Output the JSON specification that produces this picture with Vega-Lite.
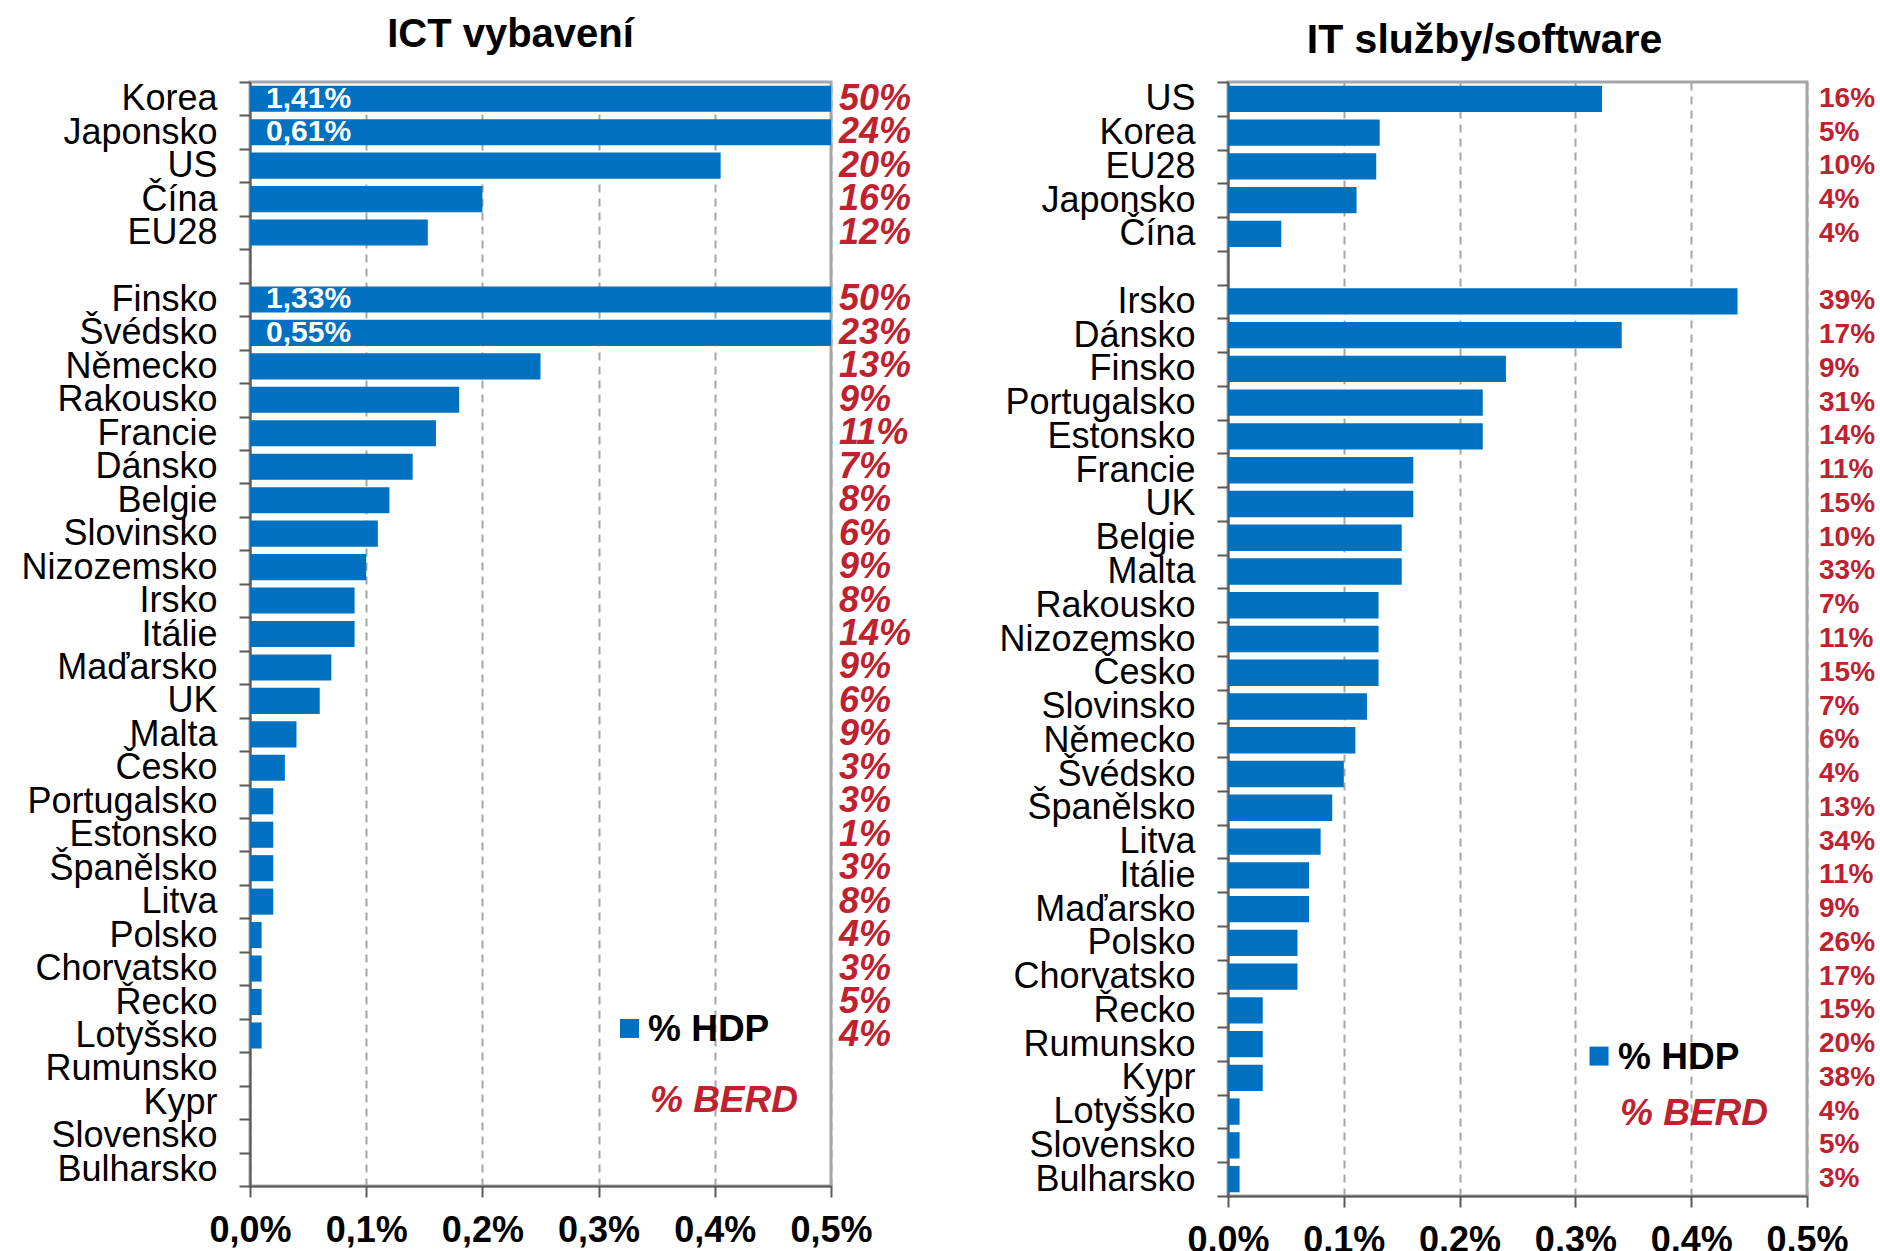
{
  "$schema": "https://vega.github.io/schema/vega-lite/v6.json",
  "background": "white",
  "autosize": {"type": "pad"},
  "padding": {"left": 19, "top": 13, "right": 0, "bottom": 0},
  "bounds": "flush",
  "spacing": 397,
  "config": {
    "font": "Liberation Sans",
    "locale": {"number": {"decimal": ",", "thousands": " ", "grouping": [3], "currency": ["", " Kč"]}},
    "view": {"stroke": "#a6a6a6", "strokeWidth": 3},
    "axisX": {
      "title": null,
      "grid": true,
      "gridColor": "#a6a6a6",
      "gridDash": [8, 6],
      "gridWidth": 2,
      "labelFontSize": 36,
      "labelFontWeight": "bold",
      "labelColor": "black",
      "labelPadding": 16,
      "labelFlush": false,
      "labelOverlap": false,
      "tickSize": 11,
      "tickWidth": 2,
      "tickColor": "#595959",
      "domainColor": "#595959",
      "domainWidth": 2
    },
    "axisY": {
      "title": null,
      "grid": false,
      "tickBand": "extent",
      "labelFontSize": 36,
      "labelColor": "black",
      "labelPadding": 22,
      "labelLimit": 500,
      "labelOverlap": false,
      "tickSize": 11,
      "tickWidth": 2,
      "tickColor": "#595959",
      "domainColor": "#595959",
      "domainWidth": 2
    }
  },
  "datasets": {
    "ict": [
      {"country": "Korea", "hdp": 0.0141, "berd": 0.50},
      {"country": "Japonsko", "hdp": 0.0061, "berd": 0.24},
      {"country": "US", "hdp": 0.00405, "berd": 0.20},
      {"country": "Čína", "hdp": 0.0020, "berd": 0.16},
      {"country": "EU28", "hdp": 0.00153, "berd": 0.12},
      {"country": "Finsko", "hdp": 0.0133, "berd": 0.50},
      {"country": "Švédsko", "hdp": 0.0055, "berd": 0.23},
      {"country": "Německo", "hdp": 0.0025, "berd": 0.13},
      {"country": "Rakousko", "hdp": 0.0018, "berd": 0.09},
      {"country": "Francie", "hdp": 0.0016, "berd": 0.11},
      {"country": "Dánsko", "hdp": 0.0014, "berd": 0.07},
      {"country": "Belgie", "hdp": 0.0012, "berd": 0.08},
      {"country": "Slovinsko", "hdp": 0.0011, "berd": 0.06},
      {"country": "Nizozemsko", "hdp": 0.0010, "berd": 0.09},
      {"country": "Irsko", "hdp": 0.0009, "berd": 0.08},
      {"country": "Itálie", "hdp": 0.0009, "berd": 0.14},
      {"country": "Maďarsko", "hdp": 0.0007, "berd": 0.09},
      {"country": "UK", "hdp": 0.0006, "berd": 0.06},
      {"country": "Malta", "hdp": 0.0004, "berd": 0.09},
      {"country": "Česko", "hdp": 0.0003, "berd": 0.03},
      {"country": "Portugalsko", "hdp": 0.0002, "berd": 0.03},
      {"country": "Estonsko", "hdp": 0.0002, "berd": 0.01},
      {"country": "Španělsko", "hdp": 0.0002, "berd": 0.03},
      {"country": "Litva", "hdp": 0.0002, "berd": 0.08},
      {"country": "Polsko", "hdp": 0.0001, "berd": 0.04},
      {"country": "Chorvatsko", "hdp": 0.0001, "berd": 0.03},
      {"country": "Řecko", "hdp": 0.0001, "berd": 0.05},
      {"country": "Lotyšsko", "hdp": 0.0001, "berd": 0.04},
      {"country": "Rumunsko", "hdp": null, "berd": null},
      {"country": "Kypr", "hdp": null, "berd": null},
      {"country": "Slovensko", "hdp": null, "berd": null},
      {"country": "Bulharsko", "hdp": null, "berd": null}
    ],
    "it": [
      {"country": "US", "hdp": 0.00323, "berd": 0.16},
      {"country": "Korea", "hdp": 0.00131, "berd": 0.05},
      {"country": "EU28", "hdp": 0.00128, "berd": 0.10},
      {"country": "Japonsko", "hdp": 0.00111, "berd": 0.04},
      {"country": "Čína", "hdp": 0.00046, "berd": 0.04},
      {"country": "Irsko", "hdp": 0.0044, "berd": 0.39},
      {"country": "Dánsko", "hdp": 0.0034, "berd": 0.17},
      {"country": "Finsko", "hdp": 0.0024, "berd": 0.09},
      {"country": "Portugalsko", "hdp": 0.0022, "berd": 0.31},
      {"country": "Estonsko", "hdp": 0.0022, "berd": 0.14},
      {"country": "Francie", "hdp": 0.0016, "berd": 0.11},
      {"country": "UK", "hdp": 0.0016, "berd": 0.15},
      {"country": "Belgie", "hdp": 0.0015, "berd": 0.10},
      {"country": "Malta", "hdp": 0.0015, "berd": 0.33},
      {"country": "Rakousko", "hdp": 0.0013, "berd": 0.07},
      {"country": "Nizozemsko", "hdp": 0.0013, "berd": 0.11},
      {"country": "Česko", "hdp": 0.0013, "berd": 0.15},
      {"country": "Slovinsko", "hdp": 0.0012, "berd": 0.07},
      {"country": "Německo", "hdp": 0.0011, "berd": 0.06},
      {"country": "Švédsko", "hdp": 0.0010, "berd": 0.04},
      {"country": "Španělsko", "hdp": 0.0009, "berd": 0.13},
      {"country": "Litva", "hdp": 0.0008, "berd": 0.34},
      {"country": "Itálie", "hdp": 0.0007, "berd": 0.11},
      {"country": "Maďarsko", "hdp": 0.0007, "berd": 0.09},
      {"country": "Polsko", "hdp": 0.0006, "berd": 0.26},
      {"country": "Chorvatsko", "hdp": 0.0006, "berd": 0.17},
      {"country": "Řecko", "hdp": 0.0003, "berd": 0.15},
      {"country": "Rumunsko", "hdp": 0.0003, "berd": 0.20},
      {"country": "Kypr", "hdp": 0.0003, "berd": 0.38},
      {"country": "Lotyšsko", "hdp": 0.0001, "berd": 0.04},
      {"country": "Slovensko", "hdp": 0.0001, "berd": 0.05},
      {"country": "Bulharsko", "hdp": 0.0001, "berd": 0.03}
    ]
  },
  "hconcat": [
    {
      "width": 581,
      "height": 1104,
      "title": {"text": "ICT vybavení", "fontSize": 40, "fontWeight": "bold", "color": "black", "anchor": "middle", "frame": "group", "baseline": "alphabetic", "offset": -23, "dx": -30},
      "data": {"name": "ict"},
      "encoding": {
        "y": {
          "field": "country", "type": "nominal", "sort": null,
          "scale": {"domain": ["Korea","Japonsko","US","Čína","EU28"," ","Finsko","Švédsko","Německo","Rakousko","Francie","Dánsko","Belgie","Slovinsko","Nizozemsko","Irsko","Itálie","Maďarsko","UK","Malta","Česko","Portugalsko","Estonsko","Španělsko","Litva","Polsko","Chorvatsko","Řecko","Lotyšsko","Rumunsko","Kypr","Slovensko","Bulharsko"], "paddingInner": 0, "paddingOuter": 0}
        }
      },
      "layer": [
        {
          "mark": {"type": "bar", "height": {"band": 0.78}, "color": "#0070c0"},
          "encoding": {
            "x": {"field": "hdp", "type": "quantitative", "scale": {"domain": [0, 0.005], "clamp": true, "nice": false, "zero": true},
              "axis": {"values": [0, 0.001, 0.002, 0.003, 0.004, 0.005], "format": ".1%"}}
          }
        },
        {
          "transform": [{"filter": "datum.hdp > 0.005"}],
          "mark": {"type": "text", "align": "left", "baseline": "middle", "dx": 16, "color": "white", "fontWeight": "bold", "fontSize": 30},
          "encoding": {
            "x": {"datum": 0, "type": "quantitative"},
            "text": {"field": "hdp", "type": "quantitative", "format": ".2%"}
          }
        },
        {
          "transform": [{"filter": "isValid(datum.berd)"}],
          "mark": {"type": "text", "align": "left", "baseline": "middle", "dx": 8, "color": "#c0212f", "fontWeight": "bold", "fontStyle": "italic", "fontSize": 36},
          "encoding": {
            "x": {"datum": 0.005, "type": "quantitative"},
            "text": {"field": "berd", "type": "quantitative", "format": ".0%"}
          }
        },
        {
          "data": {"values": [{"label": "% HDP"}]},
          "mark": {"type": "point", "shape": "square", "filled": true, "color": "#0070c0", "opacity": 1, "size": 361, "yOffset": -7},
          "encoding": {
            "x": {"datum": 0.003266, "type": "quantitative"},
            "y": {"datum": "Lotyšsko", "type": "nominal"}
          }
        },
        {
          "data": {"values": [{"label": "% HDP"}]},
          "mark": {"type": "text", "align": "left", "baseline": "middle", "dy": -5, "color": "black", "fontWeight": "bold", "fontSize": 37},
          "encoding": {
            "x": {"datum": 0.003425, "type": "quantitative"},
            "y": {"datum": "Lotyšsko", "type": "nominal"},
            "text": {"field": "label", "type": "nominal"}
          }
        },
        {
          "data": {"values": [{"label": "% BERD"}]},
          "mark": {"type": "text", "align": "left", "baseline": "middle", "dy": -1, "color": "#c0212f", "fontWeight": "bold", "fontStyle": "italic", "fontSize": 37},
          "encoding": {
            "x": {"datum": 0.003442, "type": "quantitative"},
            "y": {"datum": "Kypr", "type": "nominal"},
            "text": {"field": "label", "type": "nominal"}
          }
        }
      ]
    },
    {
      "width": 579,
      "height": 1114,
      "title": {"text": "IT služby/software", "fontSize": 41, "fontWeight": "bold", "color": "black", "anchor": "middle", "frame": "group", "baseline": "alphabetic", "offset": -30, "dx": -33},
      "data": {"name": "it"},
      "encoding": {
        "y": {
          "field": "country", "type": "nominal", "sort": null,
          "scale": {"domain": ["US","Korea","EU28","Japonsko","Čína"," ","Irsko","Dánsko","Finsko","Portugalsko","Estonsko","Francie","UK","Belgie","Malta","Rakousko","Nizozemsko","Česko","Slovinsko","Německo","Švédsko","Španělsko","Litva","Itálie","Maďarsko","Polsko","Chorvatsko","Řecko","Rumunsko","Kypr","Lotyšsko","Slovensko","Bulharsko"], "paddingInner": 0, "paddingOuter": 0}
        }
      },
      "layer": [
        {
          "mark": {"type": "bar", "height": {"band": 0.78}, "color": "#0070c0"},
          "encoding": {
            "x": {"field": "hdp", "type": "quantitative", "scale": {"domain": [0, 0.005], "clamp": true, "nice": false, "zero": true},
              "axis": {"values": [0, 0.001, 0.002, 0.003, 0.004, 0.005], "format": ".1%"}}
          }
        },
        {
          "transform": [{"filter": "isValid(datum.berd)"}],
          "mark": {"type": "text", "align": "left", "baseline": "middle", "dx": 12, "color": "#c0212f", "fontWeight": "bold", "fontSize": 28},
          "encoding": {
            "x": {"datum": 0.005, "type": "quantitative"},
            "text": {"field": "berd", "type": "quantitative", "format": ".0%"}
          }
        },
        {
          "data": {"values": [{"label": "% HDP"}]},
          "mark": {"type": "point", "shape": "square", "filled": true, "color": "#0070c0", "opacity": 1, "size": 361, "yOffset": 12},
          "encoding": {
            "x": {"datum": 0.003204, "type": "quantitative"},
            "y": {"datum": "Rumunsko", "type": "nominal"}
          }
        },
        {
          "data": {"values": [{"label": "% HDP"}]},
          "mark": {"type": "text", "align": "left", "baseline": "middle", "dy": 14, "color": "black", "fontWeight": "bold", "fontSize": 37},
          "encoding": {
            "x": {"datum": 0.003368, "type": "quantitative"},
            "y": {"datum": "Rumunsko", "type": "nominal"},
            "text": {"field": "label", "type": "nominal"}
          }
        },
        {
          "data": {"values": [{"label": "% BERD"}]},
          "mark": {"type": "text", "align": "left", "baseline": "middle", "dy": 2, "color": "#c0212f", "fontWeight": "bold", "fontStyle": "italic", "fontSize": 37},
          "encoding": {
            "x": {"datum": 0.003385, "type": "quantitative"},
            "y": {"datum": "Lotyšsko", "type": "nominal"},
            "text": {"field": "label", "type": "nominal"}
          }
        }
      ]
    }
  ]
}
